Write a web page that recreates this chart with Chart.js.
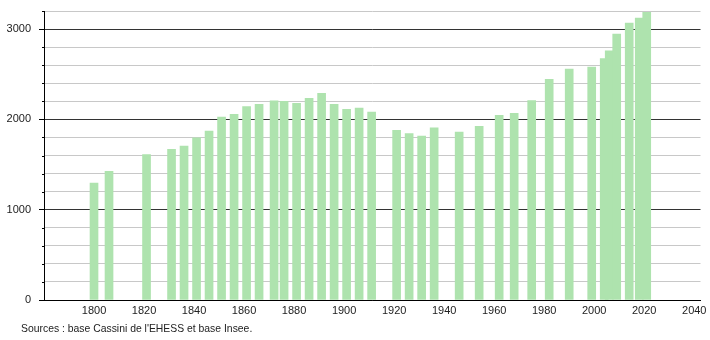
<!DOCTYPE html>
<html>
<head>
<meta charset="utf-8">
<script src="https://cdn.jsdelivr.net/npm/chart.js@4/dist/chart.umd.min.js"></script>
<style>
  html, body { margin: 0; padding: 0; background: #fff; }
  #wrap { position: relative; width: 710px; height: 340px; }
  #source { position: absolute; left: 21px; top: 323px; font: 10.4px "Liberation Sans", Arial, sans-serif; color: #222; white-space: nowrap; }
</style>
</head>
<body>
<div id="wrap">
  <canvas id="c" width="710" height="340"></canvas>
  <div id="source">Sources : base Cassini de l'EHESS et base Insee.</div>
</div>
<script>
const years = [1800, 1806, 1821, 1831, 1836, 1841, 1846, 1851, 1856, 1861, 1866, 1872, 1876, 1881, 1886, 1891, 1896, 1901, 1906, 1911, 1921, 1926, 1931, 1936, 1946, 1954, 1962, 1968, 1975, 1982, 1990, 1999, 2004, 2006, 2009, 2014, 2018, 2021];
const population = [1296, 1426, 1611, 1667, 1704, 1796, 1870, 2026, 2056, 2141, 2167, 2204, 2200, 2178, 2233, 2289, 2167, 2111, 2126, 2081, 1878, 1844, 1815, 1907, 1859, 1922, 2044, 2067, 2207, 2444, 2556, 2578, 2674, 2759, 2944, 3067, 3122, 3185];
const xTickLabels = [1800, 1820, 1840, 1860, 1880, 1900, 1920, 1940, 1960, 1980, 2000, 2020, 2040];
const yMajorTicks = [0, 1000, 2000, 3000];

const minorTicks = {
  id: 'minorTicks',
  afterDraw(chart) {
    const ys = chart.scales.y;
    const ctx = chart.ctx;
    ctx.save();
    ctx.strokeStyle = '#000';
    ctx.lineWidth = 1;
    ys.ticks.forEach(t => {
      if (yMajorTicks.includes(t.value)) return;
      const py = Math.round(ys.getPixelForValue(t.value)) + 0.5;
      ctx.beginPath();
      ctx.moveTo(ys.right - 2, py);
      ctx.lineTo(ys.right, py);
      ctx.stroke();
    });
    ctx.restore();
  }
};

new Chart(document.getElementById('c'), {
  type: 'bar',
  data: {
    datasets: [{
      data: years.map((y, i) => ({ x: y, y: population[i] })),
      backgroundColor: '#aee3ae',
      borderWidth: 0,
      barThickness: 8
    }]
  },
  options: {
    responsive: false,
    animation: false,
    devicePixelRatio: 1,
    layout: { padding: { top: 11, right: 9.5, left: 0, bottom: 0 } },
    plugins: { legend: { display: false }, tooltip: { enabled: false } },
    scales: {
      x: {
        type: 'linear',
        offset: false,
        min: 1780,
        max: 2042.5,
        afterBuildTicks: s => { s.ticks = xTickLabels.map(v => ({ value: v })); },
        afterFit: s => { s.height = 40; s.paddingLeft = 0; s.paddingRight = 0; },
        grid: { display: false, drawTicks: false, offset: false },
        border: { display: true, color: '#000', width: 1 },
        ticks: {
          padding: 4,
          maxRotation: 0,
          autoSkip: false,
          color: '#222',
          font: { family: '"Liberation Sans", Arial, sans-serif', size: 11 },
          callback: v => String(v)
        }
      },
      y: {
        min: 0,
        max: 3200,
        afterFit: s => { s.width = 44; s.paddingTop = 0; s.paddingBottom = 0; },
        ticks: {
          stepSize: 200,
          autoSkip: false,
          padding: 8,
          color: '#222',
          font: { family: '"Liberation Sans", Arial, sans-serif', size: 11 },
          callback: v => (yMajorTicks.includes(v) ? String(v) : '')
        },
        grid: {
          color: ctx => (yMajorTicks.includes(ctx.tick.value) ? '#333' : '#c8c8c8'),
          tickColor: ctx => (yMajorTicks.includes(ctx.tick.value) ? '#000' : 'transparent'),
          tickLength: 5,
          lineWidth: 1
        },
        border: { display: true, color: '#000', width: 1 }
      }
    }
  },
  plugins: [minorTicks]
});
</script>
</body>
</html>
